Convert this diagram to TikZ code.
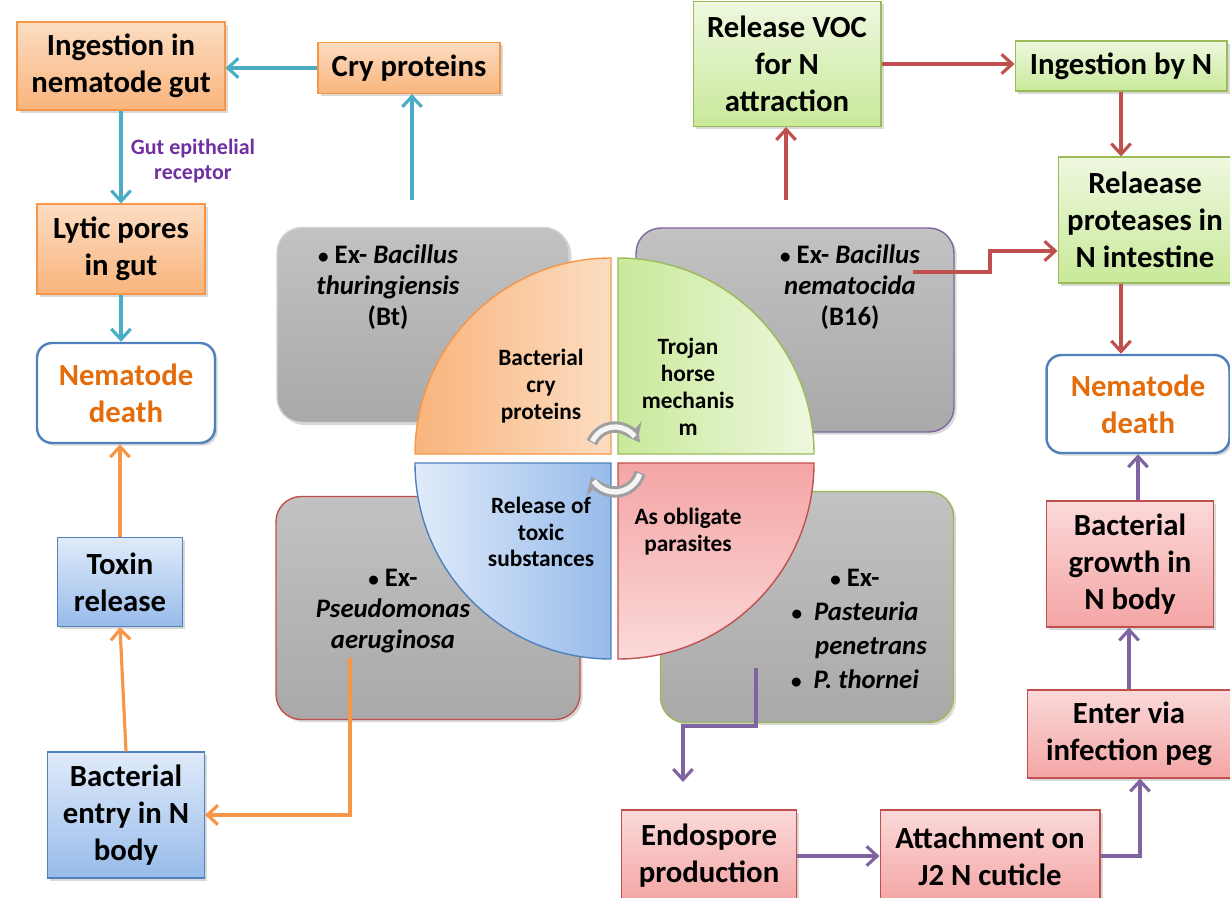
\documentclass[tikz,border=0pt]{standalone}
\usepackage{fontspec}
\setmainfont{Carlito}
\usetikzlibrary{arrows.meta,shadows}

\definecolor{orangeline}{HTML}{F79646}
\definecolor{orangetop}{HTML}{FCDDC2}
\definecolor{orangebot}{HTML}{F9B47C}
\definecolor{greenline}{HTML}{9BBB59}
\definecolor{greentop}{HTML}{EEF8DF}
\definecolor{greenbot}{HTML}{C9E99A}
\definecolor{pinkline}{HTML}{C0504D}
\definecolor{pinktop}{HTML}{FBD9D9}
\definecolor{pinkbot}{HTML}{F4A5A5}
\definecolor{blueline}{HTML}{4F81BD}
\definecolor{bluetop}{HTML}{E0EBFA}
\definecolor{bluebot}{HTML}{97BBEA}
\definecolor{graytop}{HTML}{C2C2C2}
\definecolor{graybot}{HTML}{A9A9A9}
\definecolor{tealline}{HTML}{4BACC6}
\definecolor{purpleline}{HTML}{8064A2}
\definecolor{deathtext}{HTML}{E46C0A}
\definecolor{gutlabel}{HTML}{7030A0}

\newcommand{\dotitem}{{\fontsize{12}{12}\selectfont\textbullet}}

\begin{document}
\begin{tikzpicture}[x=0.02cm, y=-0.02cm, >={Straight Barb[length=6pt,width=11pt]},
    every node/.style={font=\bfseries},
    flowbox/.style={rectangle, inner sep=0pt, align=center, line width=0.6pt,
        font=\fontsize{17.5}{21}\selectfont\bfseries,
        drop shadow={opacity=0.3, shadow xshift=1.5pt, shadow yshift=-1.5pt}},
    orangebox/.style={flowbox, draw=orangeline, top color=orangetop, bottom color=orangebot},
    greenbox/.style={flowbox, draw=greenline, top color=greentop, bottom color=greenbot},
    pinkbox/.style={flowbox, draw=pinkline, top color=pinktop, bottom color=pinkbot},
    bluebox/.style={flowbox, draw=blueline, top color=bluetop, bottom color=bluebot},
    deathbox/.style={flowbox, draw=blueline, line width=1.4pt, fill=white,
        rounded corners=0.3cm, text=deathtext},
    graybox/.style={rectangle, rounded corners=0.5cm, draw=#1, line width=0.8pt,
        top color=graytop, bottom color=graybot,
        drop shadow={opacity=0.3, shadow xshift=1.5pt, shadow yshift=-1.5pt}},
    grayitem/.style={font=\fontsize{15.2}{17.6}\selectfont\bfseries, align=center},
    quadtext/.style={font=\fontsize{13.3}{15.3}\selectfont\bfseries, align=center},
    link/.style={->, line width=1.8pt, draw=#1},
]
\useasboundingbox (0,0) rectangle (1230,898);
\clip (0,0) rectangle (1230,898);

% example boxes behind the wheel
\node[graybox=gray!35, minimum width=5.84cm, minimum height=3.9cm] (grayTL) at (423,325) {};
\node[graybox=purpleline, minimum width=6.36cm, minimum height=4.08cm] (grayTR) at (795,330) {};
\node[graybox=pinkline, minimum width=6.08cm, minimum height=4.46cm] (grayBL) at (428,608) {};
\node[graybox=greenline, minimum width=5.86cm, minimum height=4.62cm] (grayBR) at (807,607) {};

\node[grayitem] (exTL) at (388,287) {\dotitem~Ex- \textit{Bacillus}\\ \textit{thuringiensis}\\ (Bt)};
\node[grayitem] (exTR) at (850,287) {\dotitem~Ex- \textit{Bacillus}\\ \textit{nematocida}\\ (B16)};
\node[grayitem] (exBL) at (393,611) {\dotitem~Ex-\\ \textit{Pseudomonas}\\ \textit{aeruginosa}};
\node[grayitem, font=\fontsize{15.2}{19.5}\selectfont\bfseries] (exBR) at (855,629)
    {\dotitem~Ex-\\ \dotitem~~\textit{Pasteuria}\\ \hspace*{1.2em}\textit{penetrans}\\ \dotitem~~\textit{P. thornei}};

% the four quarters
\path[draw=orangeline, line width=0.8pt, left color=orangebot, right color=orangetop]
    (611,454) -- ++(-196,0) arc (180:270:196) -- cycle;
\path[draw=greenline, line width=0.8pt, left color=greenbot, right color=greentop]
    (618,454) -- ++(0,-196) arc (270:360:196) -- cycle;
\path[draw=blueline, line width=0.8pt, left color=bluetop, right color=bluebot]
    (611,463) -- ++(0,196) arc (90:180:196) -- cycle;
\path[draw=pinkline, line width=0.8pt, top color=pinkbot, bottom color=pinktop]
    (618,463) -- ++(196,0) arc (0:90:196) -- cycle;

\node[quadtext] (qcry) at (541,386) {Bacterial\\ cry\\ proteins};
\node[quadtext] (qtrojan) at (688,387) {Trojan\\ horse\\ mechanis\\ m};
\node[quadtext] (qtoxic) at (541,532) {Release of\\ toxic\\ substances};
\node[quadtext] (qparasite) at (688,532) {As obligate\\ parasites};

% turning arrows
\draw[line width=6.5pt, gray!75, -{Stealth[length=9pt,width=14pt]}] (615,452) ++(202:25) arc (202:334:25);
\draw[line width=3pt, gray!8] (615,452) ++(205:25) arc (205:322:25);
\draw[line width=6.5pt, gray!75, -{Stealth[length=9pt,width=14pt]}] (615,466) ++(15:26) arc (15:156:26);
\draw[line width=3pt, gray!8] (615,466) ++(18:26) arc (18:145:26);

% flow boxes
\node[orangebox, minimum width=4.16cm, minimum height=1.76cm] (ingest) at (121,66) {Ingestion in\\ nematode gut};
\node[orangebox, minimum width=3.64cm, minimum height=1.02cm] (cry) at (409,68) {Cry proteins};
\node[orangebox, minimum width=3.36cm, minimum height=1.8cm] (lytic) at (121,249) {Lytic pores\\ in gut};
\node[deathbox, minimum width=3.56cm, minimum height=2cm] (deathL) at (126,393) {Nematode\\ death};
\node[bluebox, minimum width=2.5cm, minimum height=1.78cm] (toxin) at (120,582) {Toxin\\ release};
\node[bluebox, minimum width=3.14cm, minimum height=2.52cm] (entry) at (126,815) {Bacterial\\ entry in N\\ body};

\node[greenbox, minimum width=3.76cm, minimum height=2.5cm] (voc) at (787,64) {Release VOC\\ for N\\ attraction};
\node[greenbox, minimum width=4.24cm, minimum height=1cm] (ingN) at (1121,66) {Ingestion by N};
\node[greenbox, minimum width=3.48cm, minimum height=2.52cm] (relP) at (1145,220) {Relaease\\ proteases in\\ N intestine};
\node[deathbox, minimum width=3.66cm, minimum height=1.96cm] (deathR) at (1138,404) {Nematode\\ death};
\node[pinkbox, minimum width=3.34cm, minimum height=2.52cm] (growth) at (1130,564) {Bacterial\\ growth in\\ N body};
\node[pinkbox, minimum width=4.08cm, minimum height=1.76cm] (enter) at (1129,734) {Enter via\\ infection peg};
\node[pinkbox, minimum width=3.5cm, minimum height=1.84cm] (endo) at (709,856) {Endospore\\ production};
\node[pinkbox, minimum width=4.4cm, minimum height=1.84cm] (attach) at (990,856) {Attachment on\\ J2 N cuticle};

% free ends of the links
\coordinate (cryfoot) at (412,200);
\coordinate (pseudofoot) at (350,658);
\coordinate (vocfoot) at (786,200);
\coordinate (nemfoot) at (913,272);
\coordinate (nembend) at (990,251);
\coordinate (pastfoot) at (756,668);
\coordinate (sporebend) at (683,726);
\coordinate (sporetip) at (683,782);

% Bt route
\draw[link=tealline] (cryfoot) -- (cryfoot |- cry.south);
\draw[link=tealline] (cry.west) -- (cry.west -| ingest.east);
\draw[link=tealline] (ingest.south) -- (lytic.north);
\node[text=gutlabel, align=center, font=\fontsize{12.5}{14.7}\selectfont\bfseries] (gutrec) at (193,161) {Gut epithelial\\ receptor};
\draw[link=tealline] (lytic.south) -- (lytic.south |- deathL.north);

% Pseudomonas route
\draw[link=orangeline] (pseudofoot) |- (entry.east);
\draw[link=orangeline] (entry.north) -- (toxin.south);
\draw[link=orangeline] (toxin.north) -- (toxin.north |- deathL.south);

% Trojan horse route
\draw[link=pinkline] (vocfoot) -- (vocfoot |- voc.south);
\draw[link=pinkline] (voc.east) -- (voc.east -| ingN.west);
\draw[link=pinkline] (ingN.south) -- (ingN.south |- relP.north);
\draw[link=pinkline] (nemfoot) -| (nembend) -- (nembend -| relP.west);
\draw[link=pinkline] (ingN.south |- relP.south) -- (ingN.south |- deathR.north);

% Pasteuria route
\draw[link=purpleline] (pastfoot) |- (sporebend) -- (sporetip);
\draw[link=purpleline] (endo.east) -- (attach.west);
\draw[link=purpleline] (attach.east) -| ([xshift=0.22cm]enter.south);
\draw[link=purpleline] (enter.north) -- (enter.north |- growth.south);
\draw[link=purpleline] (deathR.south |- growth.north) -- (deathR.south);
\end{tikzpicture}
\end{document}
